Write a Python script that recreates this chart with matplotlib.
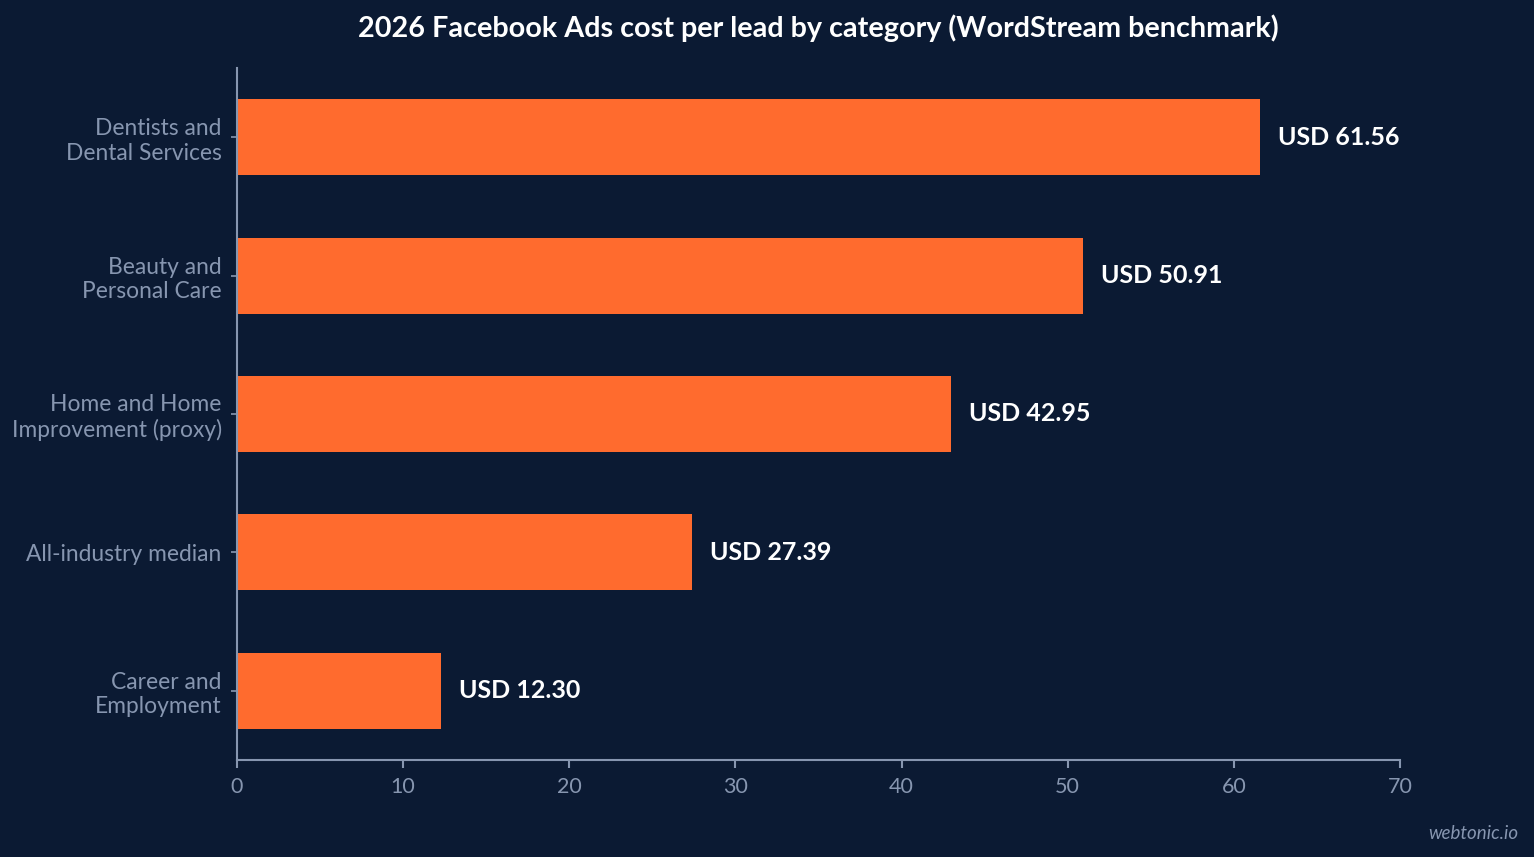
import matplotlib.pyplot as plt

categories = ['Dentists and\nDental Services', 'Beauty and\nPersonal Care',
              'Home and Home\nImprovement (proxy)', 'All-industry median',
              'Career and\nEmployment']
cpl = [61.56, 50.91, 42.95, 27.39, 12.30]
xticks = [0, 10, 20, 30, 40, 50, 60, 70]

bg = '#0b1a33'
bar_color = '#ff6b2e'
axis_color = '#8796b0'

plt.rcParams['font.family'] = ['Lato', 'DejaVu Sans']

fig = plt.figure(figsize=(15.34, 8.57), dpi=100, facecolor=bg)
ax = fig.add_axes([0.1545, 0.1132, 0.9126 - 0.1545, 0.9207 - 0.1132])
ax.set_facecolor(bg)

ypos = list(range(len(categories)))
ax.barh(ypos, cpl, height=0.55, color=bar_color)
ax.set_ylim(len(categories) - 0.5, -0.5)
ax.set_xlim(0, 70)
ax.set_xticks(xticks)
ax.set_yticks(ypos)
ax.set_yticklabels(categories, fontsize=16.4, color=axis_color)

for y, v in zip(ypos, cpl):
    ax.annotate(f'USD {v:.2f}', (v, y), xytext=(13, 0), textcoords='offset points',
                va='center', ha='left', fontsize=18, fontweight='bold', color='white')

for side in ['top', 'right']:
    ax.spines[side].set_visible(False)
for side in ['left', 'bottom']:
    ax.spines[side].set_color(axis_color)
    ax.spines[side].set_linewidth(1.5)
ax.tick_params(axis='x', colors=axis_color, labelsize=15.5, length=6, width=1.5, pad=6)
ax.tick_params(axis='y', colors=axis_color, length=4, width=1.2, pad=7)

ax.set_title('2026 Facebook Ads cost per lead by category (WordStream benchmark)',
             fontsize=20.7, fontweight='bold', color='white', pad=22)

fig.text(0.99, 0.018, 'webtonic.io', ha='right', va='bottom', fontsize=13.5,
         style='italic', color=axis_color)

fig.savefig('out.png', dpi=100, facecolor=bg)
